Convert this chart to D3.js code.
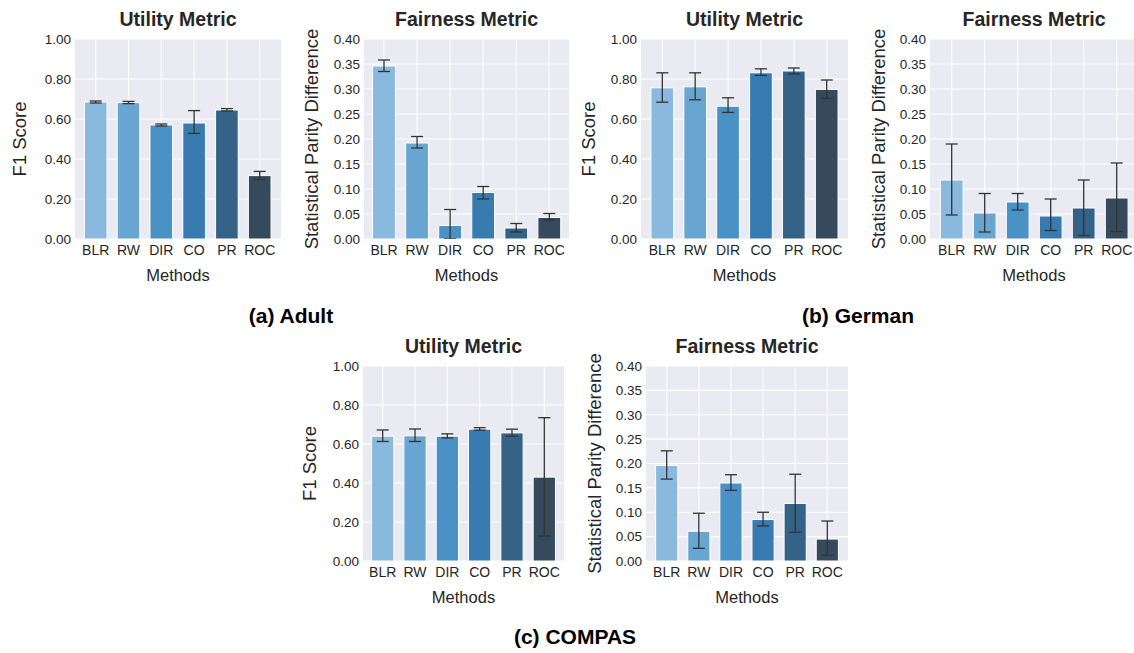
<!DOCTYPE html>
<html><head><meta charset="utf-8">
<script src="https://cdn.jsdelivr.net/npm/d3@7"></script>
<style>
html,body{margin:0;padding:0;background:#fff;}
svg{display:block;font-family:"Liberation Sans",Arial,Helvetica,sans-serif;}
</style></head>
<body>
<svg id="chart" width="1134" height="653"></svg>
<script>
// ---------- data ----------
const methods = ["BLR","RW","DIR","CO","PR","ROC"];
const barColors = ["#89b9dc","#68a6d1","#4a91c6","#377bb0","#356388","#354a5c"];

const adultF1    = [0.685,0.682,0.570,0.580,0.645,0.317];
const adultF1Lo  = [0.680,0.677,0.565,0.528,0.640,0.298];
const adultF1Hi  = [0.690,0.688,0.575,0.642,0.652,0.338];
const adultSPD   = [0.346,0.192,0.027,0.093,0.022,0.043];
const adultSPDLo = [0.335,0.182,0.000,0.080,0.014,0.038];
const adultSPDHi = [0.358,0.205,0.059,0.105,0.031,0.051];

const germanF1    = [0.756,0.761,0.664,0.831,0.840,0.748];
const germanF1Lo  = [0.684,0.696,0.633,0.818,0.825,0.703];
const germanF1Hi  = [0.831,0.831,0.706,0.851,0.855,0.795];
const germanSPD   = [0.118,0.052,0.074,0.046,0.062,0.082];
const germanSPDLo = [0.048,0.014,0.058,0.017,0.007,0.015];
const germanSPDHi = [0.190,0.091,0.091,0.080,0.118,0.152];

const compasF1    = [0.640,0.642,0.640,0.676,0.657,0.430];
const compasF1Lo  = [0.613,0.613,0.631,0.671,0.640,0.128];
const compasF1Hi  = [0.672,0.677,0.652,0.684,0.676,0.735];
const compasSPD   = [0.196,0.061,0.160,0.085,0.118,0.045];
const compasSPDLo = [0.168,0.026,0.145,0.072,0.059,0.012];
const compasSPDHi = [0.226,0.098,0.177,0.100,0.178,0.082];

const utilityTicks  = [0,0.2,0.4,0.6,0.8,1.0];
const fairnessTicks = [0,0.05,0.10,0.15,0.20,0.25,0.30,0.35,0.40];
const utilityTitle = "Utility Metric", fairnessTitle = "Fairness Metric";
const utilityLabel = "F1 Score", fairnessLabel = "Statistical Parity Difference";
const xLabel = "Methods";
const captions = ["(a) Adult","(b) German","(c) COMPAS"];

// ---------- layout ----------
const panels = [
  {x0:75,  x1:281, c0:95.7,  c5:259.7, y0:39,  y1:239, vals:adultF1,   lo:adultF1Lo,   hi:adultF1Hi,   ticks:utilityTicks,  max:1.0, title:utilityTitle,  ylab:utilityLabel,  ylx:26},
  {x0:364, x1:569, c0:384,   c5:549.3, y0:39,  y1:239, vals:adultSPD,  lo:adultSPDLo,  hi:adultSPDHi,  ticks:fairnessTicks, max:0.4, title:fairnessTitle, ylab:fairnessLabel, ylx:318},
  {x0:641, x1:848, c0:662.3, c5:826.7, y0:39,  y1:239, vals:germanF1,  lo:germanF1Lo,  hi:germanF1Hi,  ticks:utilityTicks,  max:1.0, title:utilityTitle,  ylab:utilityLabel,  ylx:595},
  {x0:930, x1:1138,c0:951.7, c5:1116.7,y0:39,  y1:239, vals:germanSPD, lo:germanSPDLo, hi:germanSPDHi, ticks:fairnessTicks, max:0.4, title:fairnessTitle, ylab:fairnessLabel, ylx:885},
  {x0:363, x1:564, c0:382.7, c5:544.3, y0:366, y1:561, vals:compasF1,  lo:compasF1Lo,  hi:compasF1Hi,  ticks:utilityTicks,  max:1.0, title:utilityTitle,  ylab:utilityLabel,  ylx:316},
  {x0:646, x1:848, c0:666.7, c5:827.3, y0:366, y1:561, vals:compasSPD, lo:compasSPDLo, hi:compasSPDHi, ticks:fairnessTicks, max:0.4, title:fairnessTitle, ylab:fairnessLabel, ylx:601}
];
const capPos = [{x:291,y:323},{x:858,y:323},{x:575,y:644}];

const svg = d3.select("#chart");
const txt = "#262626";

panels.forEach((p,pi) => {
  const g = svg.append("g");
  const x = d3.scaleLinear().domain([0,5]).range([p.c0,p.c5]);
  const band = (p.c5 - p.c0)/5;
  const y = d3.scaleLinear().domain([0,p.max]).range([p.y1,p.y0]);
  const clipId = "clip"+pi;
  svg.append("clipPath").attr("id",clipId).append("rect")
    .attr("x",p.x0).attr("y",p.y0-10).attr("width",p.x1-p.x0).attr("height",p.y1-p.y0+10);

  g.append("rect").attr("x",p.x0).attr("y",p.y0).attr("width",p.x1-p.x0).attr("height",p.y1-p.y0).attr("fill","#eaeaf2");
  const grid = g.append("g").attr("clip-path",`url(#${clipId})`);
  grid.selectAll("line.h").data(p.ticks).join("line")
    .attr("x1",p.x0).attr("x2",p.x1).attr("y1",d=>y(d)).attr("y2",d=>y(d))
    .attr("stroke","#fff").attr("stroke-width",1.1);
  grid.selectAll("line.v").data(methods).join("line").attr("class","v")
    .attr("x1",(d,i)=>x(i)).attr("x2",(d,i)=>x(i)).attr("y1",p.y0).attr("y2",p.y1)
    .attr("stroke","#fff").attr("stroke-width",1.1);

  const bw = band*0.69;
  const marks = g.append("g").attr("clip-path",`url(#${clipId})`);
  marks.selectAll("rect.bar").data(p.vals).join("rect")
    .attr("x",(d,i)=>x(i)-bw/2).attr("width",bw)
    .attr("y",d=>y(d)).attr("height",d=>y(0)-y(d))
    .attr("fill",(d,i)=>barColors[i]).attr("stroke","#fff").attr("stroke-width",1);

  const cap = 6;
  const eb = marks.append("g").attr("stroke","#333333").attr("stroke-width",1.3);
  p.vals.forEach((v,i)=>{
    const cx = x(i);
    eb.append("line").attr("x1",cx).attr("x2",cx).attr("y1",y(p.lo[i])).attr("y2",y(p.hi[i]));
    eb.append("line").attr("x1",cx-cap).attr("x2",cx+cap).attr("y1",y(p.lo[i])).attr("y2",y(p.lo[i]));
    eb.append("line").attr("x1",cx-cap).attr("x2",cx+cap).attr("y1",y(p.hi[i])).attr("y2",y(p.hi[i]));
  });

  // y tick labels
  const yAxis = d3.axisLeft(y).tickValues(p.ticks).tickFormat(d3.format(".2f")).tickSize(0).tickPadding(4);
  const ya = g.append("g").attr("transform",`translate(${p.x0},0)`).call(yAxis);
  ya.select(".domain").remove();
  ya.selectAll("text").attr("font-size",13.5).attr("fill",txt).attr("font-family","Liberation Sans, Arial, sans-serif");

  // x tick labels
  const xb = d3.scaleBand().domain(methods).range([p.c0-band/2,p.c5+band/2]);
  const xAxis = d3.axisBottom(xb).tickSize(0).tickPadding(6);
  const xa = g.append("g").attr("transform",`translate(0,${p.y1})`).call(xAxis);
  xa.select(".domain").remove();
  xa.selectAll("text").attr("font-size",14).attr("fill",txt).attr("font-family","Liberation Sans, Arial, sans-serif");

  const midX = (p.x0+p.x1)/2;
  g.append("text").attr("x",midX).attr("y",p.y1+42).attr("text-anchor","middle")
    .attr("font-size",16.5).attr("fill",txt).text(xLabel);
  g.append("text").attr("x",midX).attr("y",p.y0-13).attr("text-anchor","middle")
    .attr("font-size",19.5).attr("font-weight","bold").attr("fill",txt).text(p.title);
  const midY = (p.y0+p.y1)/2;
  g.append("text").attr("transform",`translate(${p.ylx},${midY}) rotate(-90)`).attr("text-anchor","middle")
    .attr("font-size",18.5).attr("fill",txt).text(p.ylab);
});

captions.forEach((c,i)=>{
  svg.append("text").attr("x",capPos[i].x).attr("y",capPos[i].y).attr("text-anchor","middle")
    .attr("font-size",21).attr("font-weight","bold").attr("fill","#000").text(c);
});
</script>
</body></html>
